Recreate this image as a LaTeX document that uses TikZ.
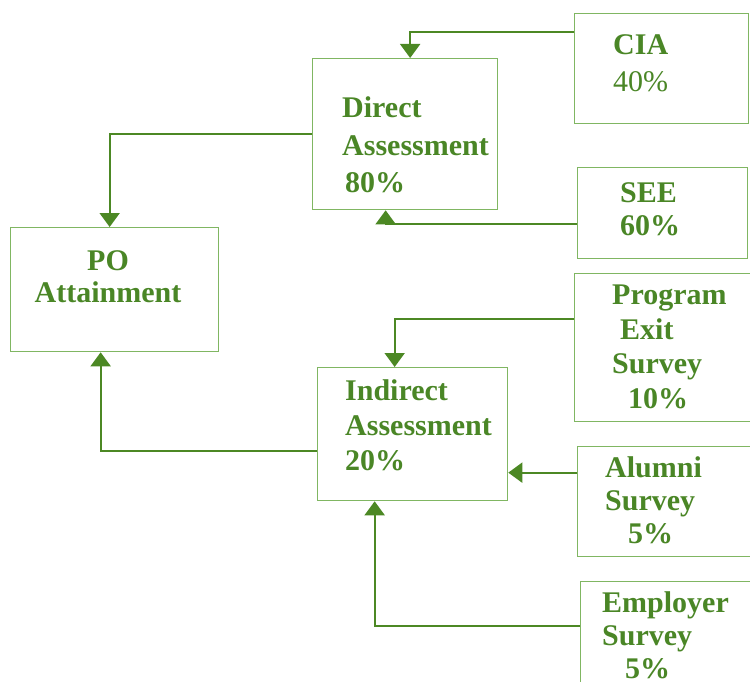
\documentclass[tikz,border=0pt]{standalone}
\usepackage{fontspec}
\setmainfont{Liberation Serif}
\usetikzlibrary{arrows.meta}

\definecolor{txtgreen}{RGB}{74,134,38}
\definecolor{boxgreen}{RGB}{128,182,98}
\definecolor{arrgreen}{RGB}{76,136,36}

\tikzset{
  blk/.style={draw=boxgreen, line width=1.3pt, rectangle, inner sep=0pt, anchor=north west},
  lbl/.style={text=txtgreen, font=\fontsize{30}{#1}\selectfont\bfseries, align=left, anchor=base west, inner sep=0pt},
  lbl/.default=35pt,
  flow/.style={draw=arrgreen, line width=2pt, -{Triangle[width=20pt,length=14pt]}}
}

\begin{document}
\begin{tikzpicture}[x=1pt, y=-1pt]
	\useasboundingbox (0,0) rectangle (750,682);
	% boxes
	\node[blk, minimum width=174pt, minimum height=110pt] (cia) at (574,13) {};
	\node[blk, minimum width=185pt, minimum height=151pt] (direct) at (312,58) {};
	\node[blk, minimum width=170pt, minimum height=91pt] (see) at (577,167) {};
	\node[blk, minimum width=208pt, minimum height=124pt] (po) at (10,227) {};
	\node[blk, minimum width=190pt, minimum height=148pt] (pexit) at (574,273) {};
	\node[blk, minimum width=190pt, minimum height=133pt] (indirect) at (317,367) {};
	\node[blk, minimum width=190pt, minimum height=110pt] (alumni) at (577,446) {};
	\node[blk, minimum width=190pt, minimum height=120pt] (employer) at (580,581) {};
	% texts (anchored at the last line)
	\node[lbl=37pt] (ciatxt) at (613,92) {CIA\\\mdseries 40\%};
	\node[lbl=37.5pt] (directtxt) at (342,193) {Direct\\Assessment\\\hspace*{3pt}80\%};
	\node[lbl=33pt] (seetxt) at (620,235) {SEE\\60\%};
	\node[lbl=32pt, align=center, anchor=base] (potxt) at (108,302) {PO\\Attainment};
	\node[lbl=34.5pt] (pexittxt) at (612,408) {Program\\\hspace*{8pt}Exit\\Survey\\\hspace*{16pt}10\%};
	\node[lbl=35pt] (indirecttxt) at (345,470) {Indirect\\Assessment\\20\%};
	\node[lbl=33pt] (alumnitxt) at (605,543) {Alumni\\Survey\\\hspace*{23pt}5\%};
	\node[lbl=33pt] (employertxt) at (602,678) {Employer\\Survey\\\hspace*{23pt}5\%};
	% connectors
	\coordinate (alin) at ([yshift=29pt]alumni.west);
	\draw[flow] ([yshift=-19pt]cia.north west) -| ([xshift=5pt]direct.north);
	\draw[flow] ([yshift=-10.5pt]see.west) -| ([xshift=-19.5pt]direct.south);
	\draw[flow] (direct.west) -| ([xshift=-5pt]po.north);
	\draw[flow] ([yshift=-16.5pt]indirect.west) -| ([xshift=-14pt]po.south);
	\draw[flow] ([yshift=-46pt]pexit.north west) -| ([xshift=-18pt]indirect.north);
	\draw[flow] (alin) -- (alin -| indirect.east);
	\draw[flow] ([yshift=-45pt]employer.north west) -| ([xshift=-38pt]indirect.south);
\end{tikzpicture}
\end{document}
